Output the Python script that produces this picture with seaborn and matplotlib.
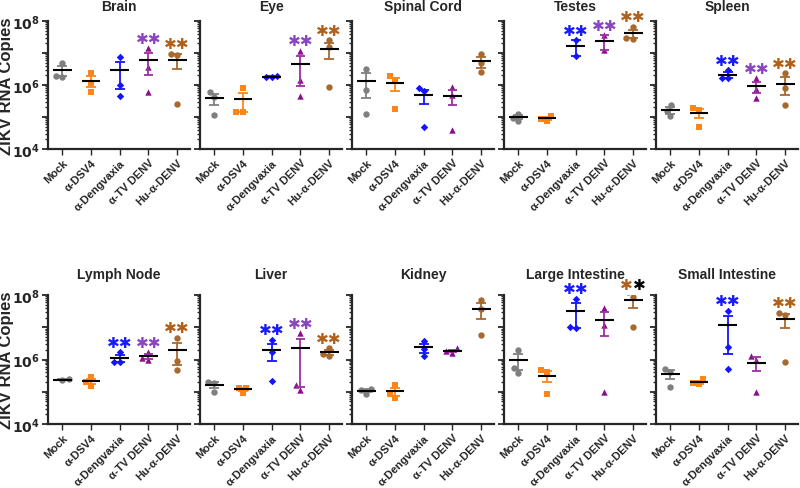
import numpy as np
import pandas as pd
import matplotlib
matplotlib.use("Agg")
import matplotlib.pyplot as plt
import seaborn as sns
from matplotlib.ticker import LogLocator, NullFormatter

GROUPS = ["Mock", "α-DSV4", "α-Dengvaxia", "α-TV DENV", "Hu-α-DENV"]
COLORS = ["#7f7f7f", "#ff8519", "#1414ff", "#8c0f8c", "#a8692f"]
BAR_COLORS = ["#7f7f7f", "#ff8519", "#1414ff", "#9b2fa0", "#a8692f"]
STAR_COLORS = ["#7f7f7f", "#ff8519", "#1a1aff", "#8a45c0", "#b0601a"]
MARKERS = ["o", "s", "D", "^", "o"]

ORGANS = ["Brain", "Eye", "Spinal Cord", "Testes", "Spleen",
          "Lymph Node", "Liver", "Kidney", "Large Intestine", "Small Intestine"]

# ZIKV RNA copies per mouse, one list per group (order = GROUPS)
BRAIN = [[5.0e6, 1.8e6, 1.9e6], [2.3e6, 1.15e6, 6.2e5], [7.3e6, 1.0e6, 4.6e5],
         [1.4e7, 3.7e6, 5.9e5], [9.5e6, 8.5e6, 2.5e5]]
EYE = [[6.2e5, 4.3e5, 1.18e5], [7.8e5, 1.4e5, 1.4e5], [1.9e6, 1.8e6, 1.75e6],
       [1.15e7, 1.4e6, 4.6e5], [2.5e7, 1.5e7, 8.7e5]]
SPINAL_CORD = [[3.2e6, 7.1e5, 1.24e5], [1.95e6, 1.4e6, 1.8e5], [7.8e5, 6.3e5, 5.0e4],
               [8.5e5, 5.0e5, 4.0e4], [9.1e6, 4.7e6, 2.5e6]]
TESTES = [[1.25e5, 7.5e4, 9.5e4], [1.1e5, 7.5e4, 8.8e4], [2.5e7, 8.1e6],
          [3.6e7, 1.25e7], [6.5e7, 2.8e7, 3.0e7]]
SPLEEN = [[2.3e5, 1.56e5, 1.05e5], [1.9e5, 1.6e5, 5.0e4], [2.9e6, 1.7e6, 1.6e6],
          [1.6e6, 7.4e5, 4.0e5], [2.3e6, 7.8e5, 2.4e5]]
LYMPH_NODE = [[2.4e5, 2.3e5], [2.8e5, 1.5e5, 2.0e5], [1.65e6, 8.2e5, 8.2e5],
              [1.65e6, 1.15e6, 1.0e6], [4.6e6, 9.1e5, 4.8e5]]
LIVER = [[2.0e5, 1.9e5, 1.0e5], [1.35e5, 1.3e5, 9.0e4], [4.0e6, 1.7e6, 2.1e5],
         [6.5e6, 1.65e5, 1.15e5], [2.2e6, 1.45e6, 1.3e6]]
KIDNEY = [[1.2e5, 1.15e5, 8.5e4], [1.6e5, 8.5e4, 6.3e4], [3.8e6, 2.05e6, 1.3e6],
          [2.2e6, 1.8e6, 1.55e6], [7.0e7, 3.6e7, 5.7e6]]
LARGE_INTESTINE = [[1.95e6, 5.5e5, 3.8e5], [4.7e5, 4.0e5, 8.5e4], [7.7e7, 1.0e7, 9.6e6],
                   [4.0e7, 1.15e7, 1.0e5], [8.7e7, 1.2e8, 1.05e7]]
SMALL_INTESTINE = [[5.2e5, 4.0e5, 1.4e5], [2.4e5, 1.9e5, 1.7e5], [3.2e7, 2.5e6, 5.2e5],
                   [1.3e6, 1.0e6, 1.0e5], [2.8e7, 2.4e7, 8.5e5]]

VALUES = [BRAIN, EYE, SPINAL_CORD, TESTES, SPLEEN,
          LYMPH_NODE, LIVER, KIDNEY, LARGE_INTESTINE, SMALL_INTESTINE]

# groups marked ** (significant) per organ
SIGNIFICANT = {
    "Brain": [3, 4], "Eye": [3, 4], "Spinal Cord": [], "Testes": [2, 3, 4],
    "Spleen": [2, 3, 4], "Lymph Node": [2, 3, 4], "Liver": [2, 3, 4],
    "Kidney": [], "Large Intestine": [2, 4], "Small Intestine": [2, 4],
}

rows = []
for organ, groups in zip(ORGANS, VALUES):
    for g, vals in zip(GROUPS, groups):
        for v in vals:
            rows.append({"organ": organ, "group": g, "value": v})
df = pd.DataFrame(rows)

sns.set_style("ticks")
plt.rcParams["font.family"] = ["Liberation Sans", "DejaVu Sans"]
plt.rcParams["font.weight"] = "bold"

fig = plt.figure(figsize=(8, 4.89), dpi=100)
W, H = 800, 489
YMIN, YMAX = 1e4, 1e8

for k, organ in enumerate(ORGANS):
    r, c = divmod(k, 5)
    left = (48 + c * 152) / W
    top_px = 22 if r == 0 else 296
    bot_px = 150 if r == 0 else 425
    ax = fig.add_axes([left, 1 - bot_px / H, 142 / W, (bot_px - top_px) / H])
    ax.set_yscale("log")
    sub = df[df["organ"] == organ]

    for i, g in enumerate(GROUPS):
        gd = sub[sub["group"] == g]
        sns.swarmplot(data=gd, x="group", y="value", order=GROUPS, color=COLORS[i],
                      marker=MARKERS[i], size=4.6 if MARKERS[i] != "D" else 3.8,
                      linewidth=0, ax=ax)
        vals = gd["value"].to_numpy()
        mean = vals.mean()
        sem = vals.std(ddof=1) / np.sqrt(len(vals))
        ax.vlines(i, mean - sem, mean + sem, color=BAR_COLORS[i], lw=1.3, zorder=3)
        ax.hlines([mean - sem, mean + sem], i - 0.17, i + 0.17, color=BAR_COLORS[i],
                  lw=1.3, zorder=3)
        ax.hlines(mean, i - 0.33, i + 0.33, color="black", lw=1.5, zorder=4)

        if i in SIGNIFICANT[organ]:
            base = min(max(vals.max(), mean + sem), YMAX)
            ys = base * 10 ** 0.3
            if organ == "Large Intestine" and i == 4:
                ax.text(i, ys, "✱", color=STAR_COLORS[i], ha="right", va="center",
                        fontsize=11, clip_on=False)
                ax.text(i, ys, "✱", color="black", ha="left", va="center",
                        fontsize=11, clip_on=False)
            else:
                ax.text(i, ys, "✱✱", color=STAR_COLORS[i], ha="center", va="center",
                        fontsize=11, clip_on=False)

    ax.set_ylim(YMIN, YMAX)
    ax.set_xlim(-0.5, 4.45)
    ax.set_yticks([1e4, 1e5, 1e6, 1e7, 1e8])
    if c == 0:
        ax.set_yticklabels([r"$\mathbf{10^4}$", "", r"$\mathbf{10^6}$", "",
                            r"$\mathbf{10^8}$"], fontsize=10)
        ax.set_ylabel("ZIKV RNA Copies", fontsize=12, fontweight="bold")
        ax.yaxis.set_label_coords(-0.24, 0.5)
    else:
        ax.set_yticklabels([])
        ax.set_ylabel("")
    ax.yaxis.set_minor_locator(LogLocator(base=10, subs=np.arange(2, 10), numticks=20))
    ax.yaxis.set_minor_formatter(NullFormatter())
    ax.tick_params(axis="y", which="major", length=4, width=1.3, pad=2)
    ax.tick_params(axis="y", which="minor", length=2, width=1.0)
    ax.tick_params(axis="x", length=4, width=1.0, pad=2)
    ax.set_xticks(range(len(GROUPS)))
    ax.set_xticklabels(GROUPS, rotation=45, ha="right", rotation_mode="anchor",
                       fontsize=8, fontweight="bold")
    ax.set_xlabel("")
    ax.set_title(organ, fontsize=10, fontweight="bold", pad=8 if r == 0 else 12)
    sns.despine(ax=ax)
    for s in ["left", "bottom"]:
        ax.spines[s].set_linewidth(1.6)

fig.savefig("out.png", dpi=100)
